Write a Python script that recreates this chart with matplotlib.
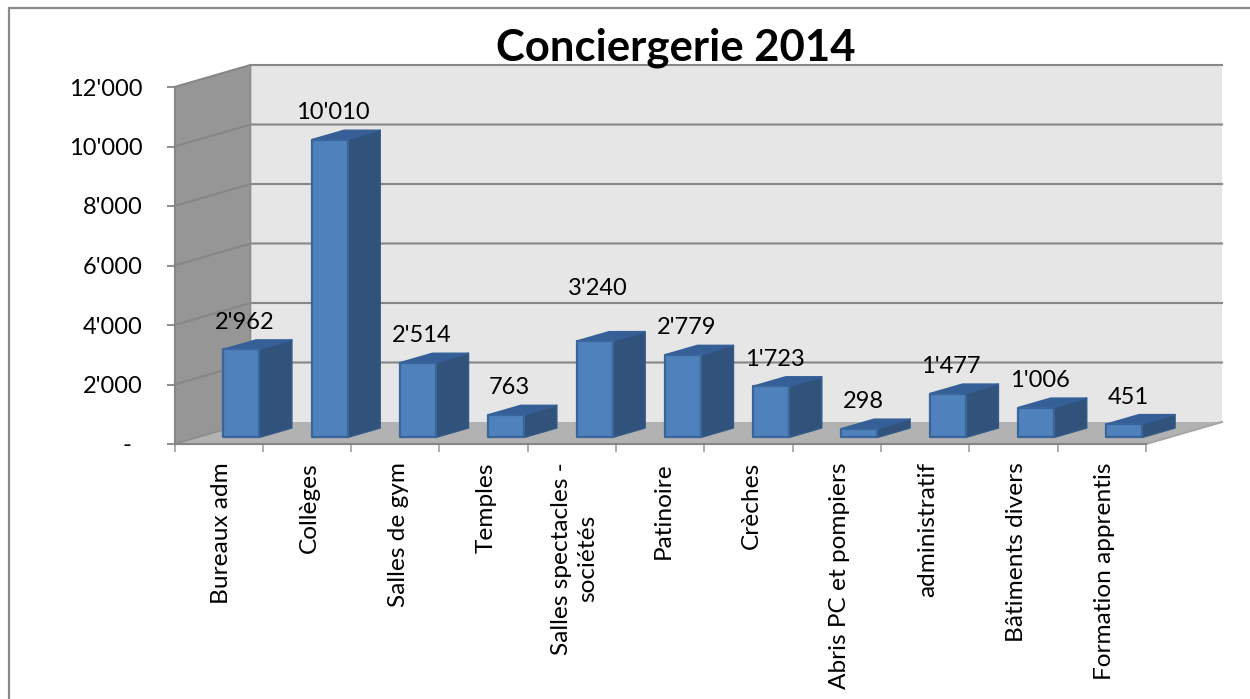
import matplotlib
matplotlib.use("Agg")
import matplotlib.pyplot as plt
from matplotlib.lines import Line2D
from matplotlib.patches import Polygon

plt.rcParams['font.family'] = ['Lato', 'DejaVu Sans']

title = "Conciergerie 2014"
categories = ["Bureaux adm", "Collèges", "Salles de gym", "Temples",
              "Salles spectacles -\nsociétés", "Patinoire", "Crèches",
              "Abris PC et pompiers", "administratif", "Bâtiments divers",
              "Formation apprentis"]
values = [2962, 10010, 2514, 763, 3240, 2779, 1723, 298, 1477, 1006, 451]
value_labels = ["2'962", "10'010", "2'514", "763", "3'240", "2'779", "1'723",
                "298", "1'477", "1'006", "451"]
y_ticks = [0, 2000, 4000, 6000, 8000, 10000, 12000]
y_tick_labels = ["-", "2'000", "4'000", "6'000", "8'000", "10'000", "12'000"]

W, H = 1250, 699
fig = plt.figure(figsize=(W / 100, H / 100), dpi=100, facecolor="white")

# frame of the chart area: only the top and left edges are visible
fig.add_artist(Line2D([8.5 / W, 8.5 / W, 1], [0, 1 - 8 / H, 1 - 8 / H],
                      color="#8a8a8a", lw=1.6, transform=fig.transFigure,
                      solid_joinstyle="miter"))

L, R, T, B = 174.5, 1146, 87, 444
ax = fig.add_axes([L / W, 1 - B / H, (R - L) / W, (B - T) / H])
n = len(categories)
ax.set_xlim(0, n)
ax.set_ylim(0, 12000)
ax.patch.set_visible(False)
for s in ax.spines.values():
    s.set_visible(False)

px_x = (R - L) / n
px_y = (B - T) / 12000
DX = 76 / px_x      # full depth of the box, category units
DY = 22 / px_y      # full depth of the box, value units

def P(x, y, d):
    """Point at category position x, value y and depth fraction d."""
    return (x + DX * d, y + DY * d)

def poly(pts, fc, ec=None, lw=0, z=1):
    ax.add_patch(Polygon(pts, closed=True, fc=fc, ec=ec if ec else fc, lw=lw,
                         zorder=z, clip_on=False, joinstyle="round"))

# walls and floor
poly([P(0, 0, 1), P(n, 0, 1), P(n, 12000, 1), P(0, 12000, 1)], "#e6e6e6", z=1)
poly([P(0, 0, 0), P(0, 0, 1), P(0, 12000, 1), P(0, 12000, 0)], "#969696", z=1)
poly([P(0, 0, 0), P(n, 0, 0), P(n, 0, 1), P(0, 0, 1)], "#b2b2b2", z=1)

GRID = "#868686"
for v in y_ticks[1:]:
    xs, ys = zip(P(0, v, 0), P(0, v, 1), P(n, v, 1))
    ax.plot(xs, ys, color=GRID, lw=1.5, zorder=2, clip_on=False,
            solid_joinstyle="miter")
xs, ys = zip(P(0, 0, 0), P(n, 0, 0), P(n, 0, 1))
ax.plot(xs, ys, color="#a6a6a6", lw=1.5, zorder=2, clip_on=False)
xs, ys = zip(P(0, 0, 0), P(0, 12000, 0))
ax.plot(xs, ys, color=GRID, lw=1.5, zorder=2, clip_on=False)
xs, ys = zip(P(0, 0, 0), P(0, 0, 1), P(0, 12000, 1))
ax.plot(xs, ys, color="#8c8c8c", lw=1.2, zorder=2, clip_on=False)
xs, ys = zip(P(0, 0, 0), P(n, 0, 0))
ax.plot(xs, ys, color=GRID, lw=1.5, zorder=3, clip_on=False)

# bars
D0, D1 = 0.297, 0.727
BW = 36 / px_x
EDGE = "#3a659b"
for i, v in enumerate(values):
    x0 = i + 0.5 - BW / 2
    x1 = x0 + BW
    z = 5 + i
    poly([P(x1, 0, D0), P(x1, 0, D1), P(x1, v, D1), P(x1, v, D0)],
         "#31527a", "#335a88", 1.0, z)
    poly([P(x0, v, D0), P(x1, v, D0), P(x1, v, D1), P(x0, v, D1)],
         "#355f96", "#355f96", 1.0, z)
    poly([P(x0, 0, D0), P(x1, 0, D0), P(x1, v, D0), P(x0, v, D0)],
         "#4f81bd", EDGE, 1.6, z)

# value labels
label_extra = [0, 0, 0, 0, 26, 0, 0, 0, 0, 0, 0]
for i, (v, s, e) in enumerate(zip(values, value_labels, label_extra)):
    x, y = P(i + 0.5, v, D0)
    ax.annotate(s, (x, y), xytext=(2.5, (27 + e) * 0.72), textcoords="offset points",
                ha="center", va="center", fontsize=17, color="black",
                zorder=30, annotation_clip=False)

# axes ticks
ax.set_yticks(y_ticks)
ax.set_yticklabels(y_tick_labels, fontsize=17)
ax.get_yticklabels()[0].set_x(-0.011)
ax.set_xticks(range(n + 1))
ax.set_xticklabels([""] * (n + 1))
ax.tick_params(axis="y", length=6, width=1.3, color="#868686", pad=17)
ax.tick_params(axis="x", length=6, width=1.3, color="#a6a6a6")

for i, c in enumerate(categories):
    ax.annotate(c, (i + 0.5, 0), xytext=(2, -13), textcoords="offset points",
                rotation=90, ha="center", va="top", fontsize=17.6,
                multialignment="center", linespacing=1.35,
                annotation_clip=False)

fig.text(676 / W, 1 - 47.5 / H, title, ha="center", va="center", fontsize=31.4,
         fontweight="bold", color="black", zorder=40)

fig.savefig("out.png", dpi=100)
